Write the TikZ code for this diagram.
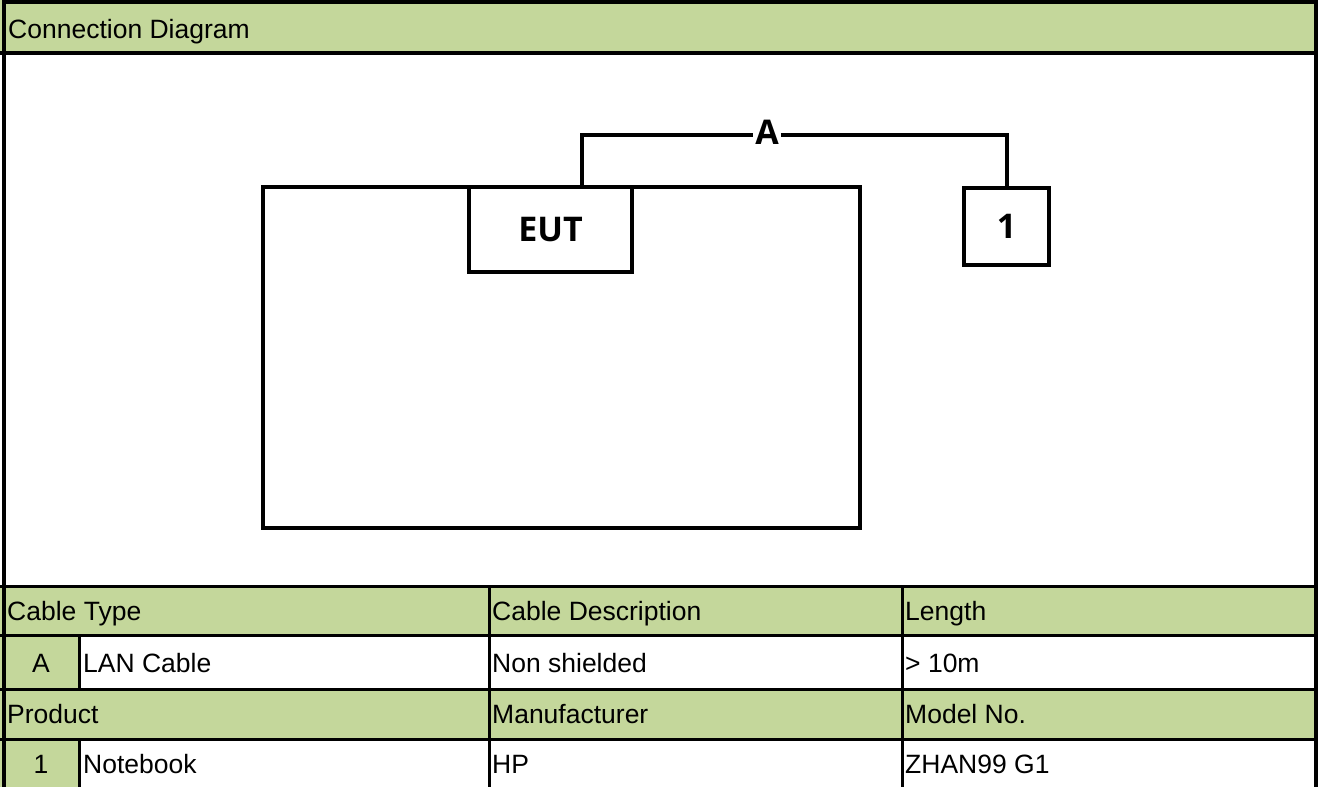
\documentclass[tikz,border=0pt]{standalone}
\usepackage{fontspec}
\setmainfont{Liberation Sans}
\newfontfamily\diagfont{Open Sans}
\definecolor{hdrgreen}{RGB}{196,215,155}
\begin{document}
\begin{tikzpicture}[x=1pt,y=-1pt,
  cell/.style={anchor=base west,inner sep=0pt,font=\fontsize{26.5}{30}\selectfont},
  cellc/.style={anchor=base,inner sep=0pt,font=\fontsize{26.5}{30}\selectfont},
  tline/.style={line width=3pt,black},
  bline/.style={line width=4pt,black},
  dbox/.style={draw,line width=4pt,rectangle,inner sep=0pt,font=\diagfont\bfseries\fontsize{34}{38}\selectfont},
  wire/.style={line width=4pt}]
\useasboundingbox (0,0) rectangle (1318,787);
% fills
\fill[hdrgreen] (0,0) rectangle (1318,53);
\fill[hdrgreen] (0,586) rectangle (1318,635);
\fill[hdrgreen] (0,635) rectangle (79,689);
\fill[hdrgreen] (0,689) rectangle (1318,739);
\fill[hdrgreen] (0,739) rectangle (79,787);
% table lines
\draw[bline] (0,53) -- (1318,53);
\draw[tline] (0,586) -- (1318,586);
\draw[tline] (0,635) -- (1318,635);
\draw[tline] (0,689) -- (1318,689);
\draw[tline] (0,739) -- (1318,739);
\draw[tline] (79,635) -- (79,689);
\draw[tline] (79,739) -- (79,787);
\draw[tline] (489,586) -- (489,787);
\draw[tline] (902,586) -- (902,787);
% outer border
\draw[bline] (4,787) -- (4,2) -- (1316,2) -- (1316,787);
% texts
\node[cell] (title) at (8,38) {Connection Diagram};
\node[cell] (ct) at (7,620) {Cable Type};
\node[cell] (cd) at (492,620) {Cable Description};
\node[cell] (len) at (905,620) {Length};
\node[cellc] (ca) at (41,672) {A};
\node[cell] (lan) at (83,672) {LAN Cable};
\node[cell] (ns) at (492,672) {Non shielded};
\node[cell] (tm) at (905,672) {> 10m};
\node[cell] (prod) at (7,723) {Product};
\node[cell] (manu) at (492,723) {Manufacturer};
\node[cell] (model) at (905,723) {Model No.};
\node[cellc] (p1) at (41,773) {1};
\node[cell] (nb) at (83,773) {Notebook};
\node[cell] (hp) at (492,773) {HP};
\node[cell] (zh) at (905,773) {ZHAN99 G1};
% diagram
\node[dbox,minimum width=597pt,minimum height=341pt] (big) at (561.5,357.5) {};
\node[dbox,fill=white,minimum width=163pt,minimum height=85pt] (eut) at (550.5,229.5) {EUT};
\node[dbox,minimum width=85pt,minimum height=77pt] (one) at (1006.5,226.5) {1};
\coordinate (c1) at (582,135);
\node[inner xsep=2pt,inner ysep=0pt,font=\diagfont\bfseries\fontsize{34}{38}\selectfont] (lblA) at (767,132) {A};
\draw[wire] (c1 |- big.north) -- (c1) -- (lblA.west |- c1);
\draw[wire] (lblA.east |- c1) -| (one.north);
\end{tikzpicture}
\end{document}
